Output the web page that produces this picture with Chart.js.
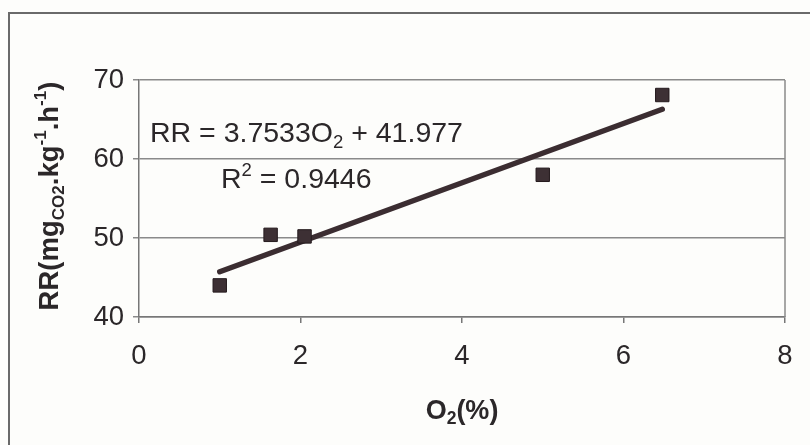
<!DOCTYPE html>
<html>
<head>
<meta charset="utf-8">
<script src="https://cdn.jsdelivr.net/npm/chart.js@4.4.1/dist/chart.umd.min.js"></script>
<style>
  html, body { margin: 0; padding: 0; background: #fdfdfb; }
  #wrap { width: 810px; height: 445px; position: relative; }
</style>
</head>
<body>
<div id="wrap"><canvas id="c" width="810" height="445"></canvas></div>
<script>
// Respiration rate vs. oxygen concentration
const o2Percent = [1.0, 1.63, 2.05, 5.0, 6.48];
const respirationRate = [44.0, 50.4, 50.2, 58.0, 68.1];

// Linear fit reported on the chart
const fitSlope = 3.7533;
const fitIntercept = 41.977;
const fitR2 = 0.9446;

const xTicks = [0, 2, 4, 6, 8];
const yTicks = [40, 50, 60, 70];

const FONT = '"Liberation Sans", Arial, sans-serif';
const INK = '#2b2729';
const MARK = '#3d3034';

const points = o2Percent.map((x, i) => ({ x, y: respirationRate[i] }));
const xMin = Math.min(...o2Percent), xMax = Math.max(...o2Percent);
const fitLine = [xMin, xMax].map(x => ({ x, y: fitSlope * x + fitIntercept }));

// Draw a run of text pieces; each piece may be shifted up/down and scaled.
function drawRich(ctx, pieces, x, y, size, weight) {
  let cx = x;
  for (const p of pieces) {
    const s = size * (p.scale || 1);
    ctx.font = `${p.weight || weight} ${s}px ${FONT}`;
    ctx.fillText(p.t, cx, y + (p.dy || 0) * size);
    cx += ctx.measureText(p.t).width;
  }
  return cx - x;
}
function measureRich(ctx, pieces, size, weight) {
  let w = 0;
  for (const p of pieces) {
    ctx.font = `${p.weight || weight} ${size * (p.scale || 1)}px ${FONT}`;
    w += ctx.measureText(p.t).width;
  }
  return w;
}

const annotations = {
  id: 'annotations',
  beforeDraw(chart) {
    const ctx = chart.ctx;
    ctx.save();
    ctx.fillStyle = '#fdfdfb';
    ctx.fillRect(0, 0, chart.width, chart.height);
    // outer frame
    ctx.strokeStyle = '#6a6a6a';
    ctx.lineWidth = 2;
    ctx.beginPath();
    ctx.moveTo(9, chart.height);
    ctx.lineTo(9, 13);
    ctx.lineTo(chart.width, 13);
    ctx.stroke();
    ctx.restore();
  },
  afterDraw(chart) {
    const ctx = chart.ctx;
    const a = chart.chartArea;
    ctx.save();
    // right edge of plot area
    ctx.strokeStyle = '#8a8a8a';
    ctx.lineWidth = 1.5;
    ctx.beginPath();
    ctx.moveTo(a.right, a.top);
    ctx.lineTo(a.right, a.bottom);
    ctx.stroke();

    ctx.fillStyle = INK;
    ctx.textBaseline = 'alphabetic';
    ctx.textAlign = 'left';
    // regression equation
    drawRich(ctx, [
      { t: 'RR = ' + fitSlope.toFixed(4) + 'O' },
      { t: '2', scale: 0.65, dy: 0.2 },
      { t: ' + ' + fitIntercept.toFixed(3) }
    ], 150, 142, 28.5, 'normal');
    drawRich(ctx, [
      { t: 'R' },
      { t: '2', scale: 0.65, dy: -0.42 },
      { t: ' = ' + fitR2.toFixed(4) }
    ], 221, 188, 28.5, 'normal');

    // x axis title
    const xt = [
      { t: 'O' },
      { t: '2', scale: 0.65, dy: 0.2 },
      { t: '(%)' }
    ];
    const xw = measureRich(ctx, xt, 27, 'bold');
    drawRich(ctx, xt, (a.left + a.right) / 2 - xw / 2, 419, 27, 'bold');

    // y axis title (rotated)
    const yt = [
      { t: 'RR(mg' },
      { t: 'CO2', scale: 0.62, dy: 0.2 },
      { t: '.kg' },
      { t: '-1', scale: 0.62, dy: -0.42 },
      { t: '.h' },
      { t: '-1', scale: 0.62, dy: -0.42 },
      { t: ')' }
    ];
    const yw = measureRich(ctx, yt, 27.5, 'bold');
    ctx.translate(58, 196);
    ctx.rotate(-Math.PI / 2);
    drawRich(ctx, yt, -yw / 2, 0, 27.5, 'bold');
    ctx.restore();
  }
};

new Chart(document.getElementById('c'), {
  type: 'scatter',
  data: {
    datasets: [
      {
        type: 'line',
        data: fitLine,
        borderColor: '#3b2d31',
        borderWidth: 5.5,
        borderCapStyle: 'round',
        pointRadius: 0,
        fill: false,
        order: 2
      },
      {
        data: points,
        pointStyle: 'rect',
        pointRadius: 9.5,
        backgroundColor: MARK,
        borderColor: '#241a1d',
        borderWidth: 1,
        order: 1
      }
    ]
  },
  options: {
    responsive: false,
    animation: false,
    devicePixelRatio: 1,
    layout: { padding: { top: 80, right: 25, left: 0, bottom: 0 } },
    plugins: { legend: { display: false }, tooltip: { enabled: false } },
    scales: {
      x: {
        type: 'linear',
        min: 0, max: 8,
        afterBuildTicks: s => { s.ticks = xTicks.map(v => ({ value: v })); },
        afterFit: s => { s.height = 128; },
        ticks: { color: INK, font: { family: FONT, size: 27.5 }, padding: 17 },
        grid: { drawOnChartArea: false, drawTicks: true, tickLength: 6, color: '#777', lineWidth: 1.5 },
        border: { color: '#777', width: 1.5 }
      },
      y: {
        min: 40, max: 70,
        afterBuildTicks: s => { s.ticks = yTicks.map(v => ({ value: v })); },
        afterFit: s => { s.width = 139; },
        ticks: { color: INK, font: { family: FONT, size: 27.5 }, padding: 9 },
        grid: { drawTicks: true, tickLength: 6, color: '#8a8a8a', lineWidth: 1.5 },
        border: { color: '#777', width: 1.5 }
      }
    }
  },
  plugins: [annotations]
});
</script>
</body>
</html>
